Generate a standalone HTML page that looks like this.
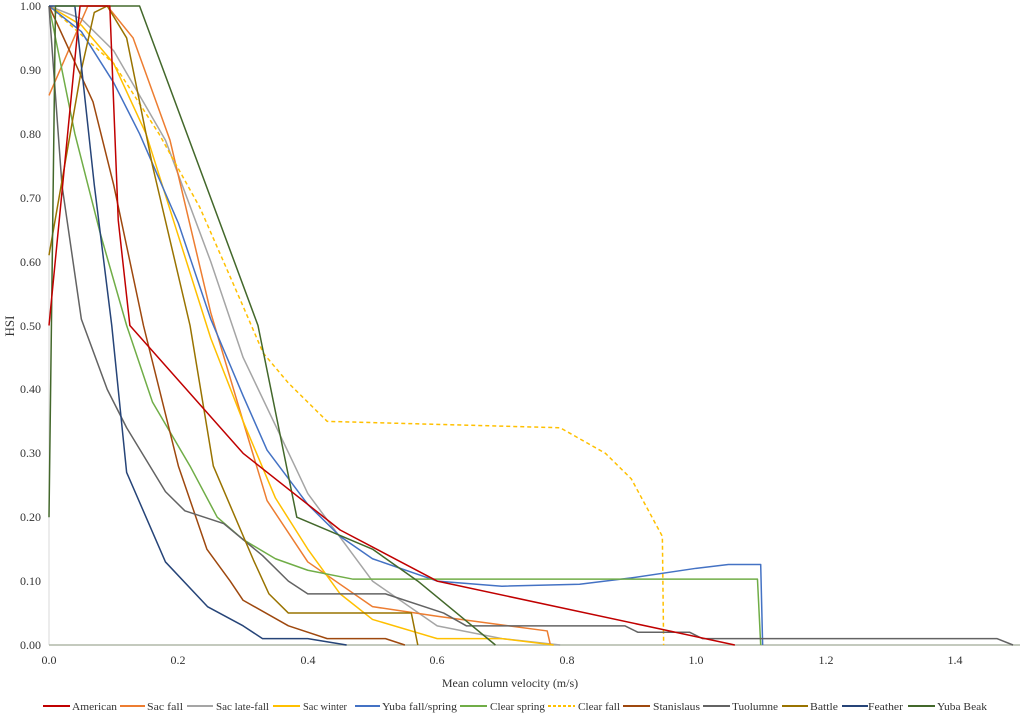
<!DOCTYPE html>
<html><head><meta charset="utf-8"><style>
html,body{margin:0;padding:0;background:#fff;}
svg{display:block;font-family:"Liberation Serif",serif;}
</style></head><body>
<svg width="1023" height="716" viewBox="0 0 1023 716" xmlns="http://www.w3.org/2000/svg">
<g font-size="12" fill="#333" text-anchor="end">
<text x="41" y="10">1.00</text><text x="41" y="74">0.90</text><text x="41" y="138">0.80</text><text x="41" y="202">0.70</text><text x="41" y="266">0.60</text><text x="41" y="330">0.50</text><text x="41" y="393">0.40</text><text x="41" y="457">0.30</text><text x="41" y="521">0.20</text><text x="41" y="585">0.10</text><text x="41" y="649">0.00</text>
</g>
<g font-size="12" fill="#333" text-anchor="middle">
<text x="49" y="664">0.0</text><text x="178" y="664">0.2</text><text x="308" y="664">0.4</text><text x="437" y="664">0.6</text><text x="567" y="664">0.8</text><text x="696" y="664">1.0</text><text x="826" y="664">1.2</text><text x="955" y="664">1.4</text>
<text x="510" y="687" font-size="12">Mean column  velocity  (m/s)</text>
</g>
<text x="0" y="0" font-size="13" fill="#333" text-anchor="middle" transform="translate(14,326) rotate(-90)">HSI</text>
<line x1="49" y1="6" x2="49" y2="645" stroke="#d9d9d9"/>
<line x1="49" y1="645" x2="1020" y2="645" stroke="#b0b8a8" stroke-width="1.5"/>
<g transform="translate(49,645) scale(647,-639)" fill="none" stroke-width="1.5" stroke-linejoin="round">
<polyline vector-effect="non-scaling-stroke" stroke="#A5A5A5" points="0,1 0.05,0.98 0.1,0.93 0.18,0.79 0.25,0.6 0.3,0.45 0.38,0.28 0.4,0.237 0.5,0.1 0.6,0.03 0.7,0.01 0.79,0"/>
<polyline vector-effect="non-scaling-stroke" stroke="#ED7D31" points="0,0.86 0.06,1 0.09,1 0.13,0.95 0.187,0.79 0.25,0.52 0.3,0.35 0.337,0.226 0.4,0.13 0.5,0.06 0.6,0.045 0.77,0.022 0.775,0"/>
<polyline vector-effect="non-scaling-stroke" stroke="#FFC000" points="0,1 0.05,0.97 0.1,0.91 0.15,0.8 0.2,0.64 0.25,0.48 0.3,0.35 0.35,0.23 0.4,0.15 0.45,0.08 0.5,0.04 0.6,0.01 0.7,0.01 0.78,0"/>
<polyline vector-effect="non-scaling-stroke" stroke="#FFC000" stroke-dasharray="4,3" points="0,1 0.1,0.91 0.17,0.8 0.233,0.685 0.3,0.53 0.331,0.457 0.37,0.41 0.43,0.35 0.79,0.34 0.86,0.3 0.9,0.26 0.948,0.17 0.95,0"/>
<polyline vector-effect="non-scaling-stroke" stroke="#4472C4" points="0,1 0.05,0.96 0.1,0.88 0.14,0.8 0.2,0.66 0.25,0.51 0.3,0.39 0.337,0.305 0.4,0.22 0.45,0.17 0.5,0.135 0.6,0.1 0.7,0.092 0.82,0.095 0.9,0.105 1.0,0.12 1.05,0.126 1.1,0.126 1.103,0"/>
<polyline vector-effect="non-scaling-stroke" stroke="#70AD47" points="0,1 0.04,0.8 0.079,0.645 0.12,0.5 0.16,0.38 0.218,0.28 0.26,0.2 0.3,0.165 0.35,0.135 0.4,0.117 0.47,0.103 1.095,0.103 1.1,0"/>
<polyline vector-effect="non-scaling-stroke" stroke="#9E480E" points="0,1 0.068,0.85 0.1,0.72 0.146,0.5 0.2,0.28 0.244,0.15 0.28,0.1 0.3,0.07 0.37,0.03 0.43,0.01 0.52,0.01 0.55,0"/>
<polyline vector-effect="non-scaling-stroke" stroke="#636363" points="0,1 0.02,0.72 0.05,0.51 0.09,0.4 0.12,0.34 0.18,0.24 0.21,0.21 0.27,0.19 0.33,0.14 0.37,0.1 0.4,0.08 0.52,0.08 0.61,0.05 0.645,0.03 0.89,0.03 0.91,0.02 0.99,0.02 1.01,0.01 1.465,0.01 1.49,0"/>
<polyline vector-effect="non-scaling-stroke" stroke="#997300" points="0,0.61 0.05,0.9 0.07,0.99 0.09,1 0.12,0.95 0.16,0.75 0.218,0.5 0.254,0.28 0.316,0.133 0.34,0.08 0.37,0.05 0.56,0.05 0.57,0"/>
<polyline vector-effect="non-scaling-stroke" stroke="#264478" points="0,1 0.02,1 0.04,1 0.07,0.72 0.097,0.5 0.12,0.27 0.18,0.13 0.245,0.06 0.3,0.03 0.33,0.01 0.4,0.01 0.46,0"/>
<polyline vector-effect="non-scaling-stroke" stroke="#43682B" points="0,0.2 0.01,1 0.14,1 0.323,0.5 0.383,0.2 0.5,0.15 0.57,0.1 0.69,0"/>
<polyline vector-effect="non-scaling-stroke" stroke="#C00000" points="0,0.5 0.048,1 0.094,1 0.107,0.665 0.125,0.5 0.3,0.3 0.45,0.18 0.6,0.1 1.06,0"/>
</g>
<g font-size="11" fill="#333" stroke-width="2">
<line x1="43" y1="706" x2="70" y2="706" stroke="#C00000"/><text x="72" y="710" textLength="45" lengthAdjust="spacingAndGlyphs">American</text>
<line x1="120" y1="706" x2="145" y2="706" stroke="#ED7D31"/><text x="147" y="710" textLength="36" lengthAdjust="spacingAndGlyphs">Sac fall</text>
<line x1="187" y1="706" x2="213" y2="706" stroke="#A5A5A5"/><text x="216" y="710" textLength="53" lengthAdjust="spacingAndGlyphs">Sac late-fall</text>
<line x1="273" y1="706" x2="300" y2="706" stroke="#FFC000"/><text x="303" y="710" textLength="44" lengthAdjust="spacingAndGlyphs">Sac winter</text>
<line x1="355" y1="706" x2="380" y2="706" stroke="#4472C4"/><text x="382" y="710" textLength="75" lengthAdjust="spacingAndGlyphs">Yuba fall/spring</text>
<line x1="460" y1="706" x2="487" y2="706" stroke="#70AD47"/><text x="490" y="710" textLength="55" lengthAdjust="spacingAndGlyphs">Clear spring</text>
<line x1="548" y1="706" x2="575" y2="706" stroke="#FFC000" stroke-dasharray="3,2"/><text x="578" y="710" textLength="42" lengthAdjust="spacingAndGlyphs">Clear fall</text>
<line x1="623" y1="706" x2="650" y2="706" stroke="#9E480E"/><text x="653" y="710" textLength="47" lengthAdjust="spacingAndGlyphs">Stanislaus</text>
<line x1="703" y1="706" x2="730" y2="706" stroke="#636363"/><text x="732" y="710" textLength="46" lengthAdjust="spacingAndGlyphs">Tuolumne</text>
<line x1="782" y1="706" x2="808" y2="706" stroke="#997300"/><text x="810" y="710" textLength="28" lengthAdjust="spacingAndGlyphs">Battle</text>
<line x1="842" y1="706" x2="868" y2="706" stroke="#264478"/><text x="868" y="710" textLength="35" lengthAdjust="spacingAndGlyphs">Feather</text>
<line x1="908" y1="706" x2="935" y2="706" stroke="#43682B"/><text x="937" y="710" textLength="50" lengthAdjust="spacingAndGlyphs">Yuba Beak</text>
</g>
</svg>
</body></html>
